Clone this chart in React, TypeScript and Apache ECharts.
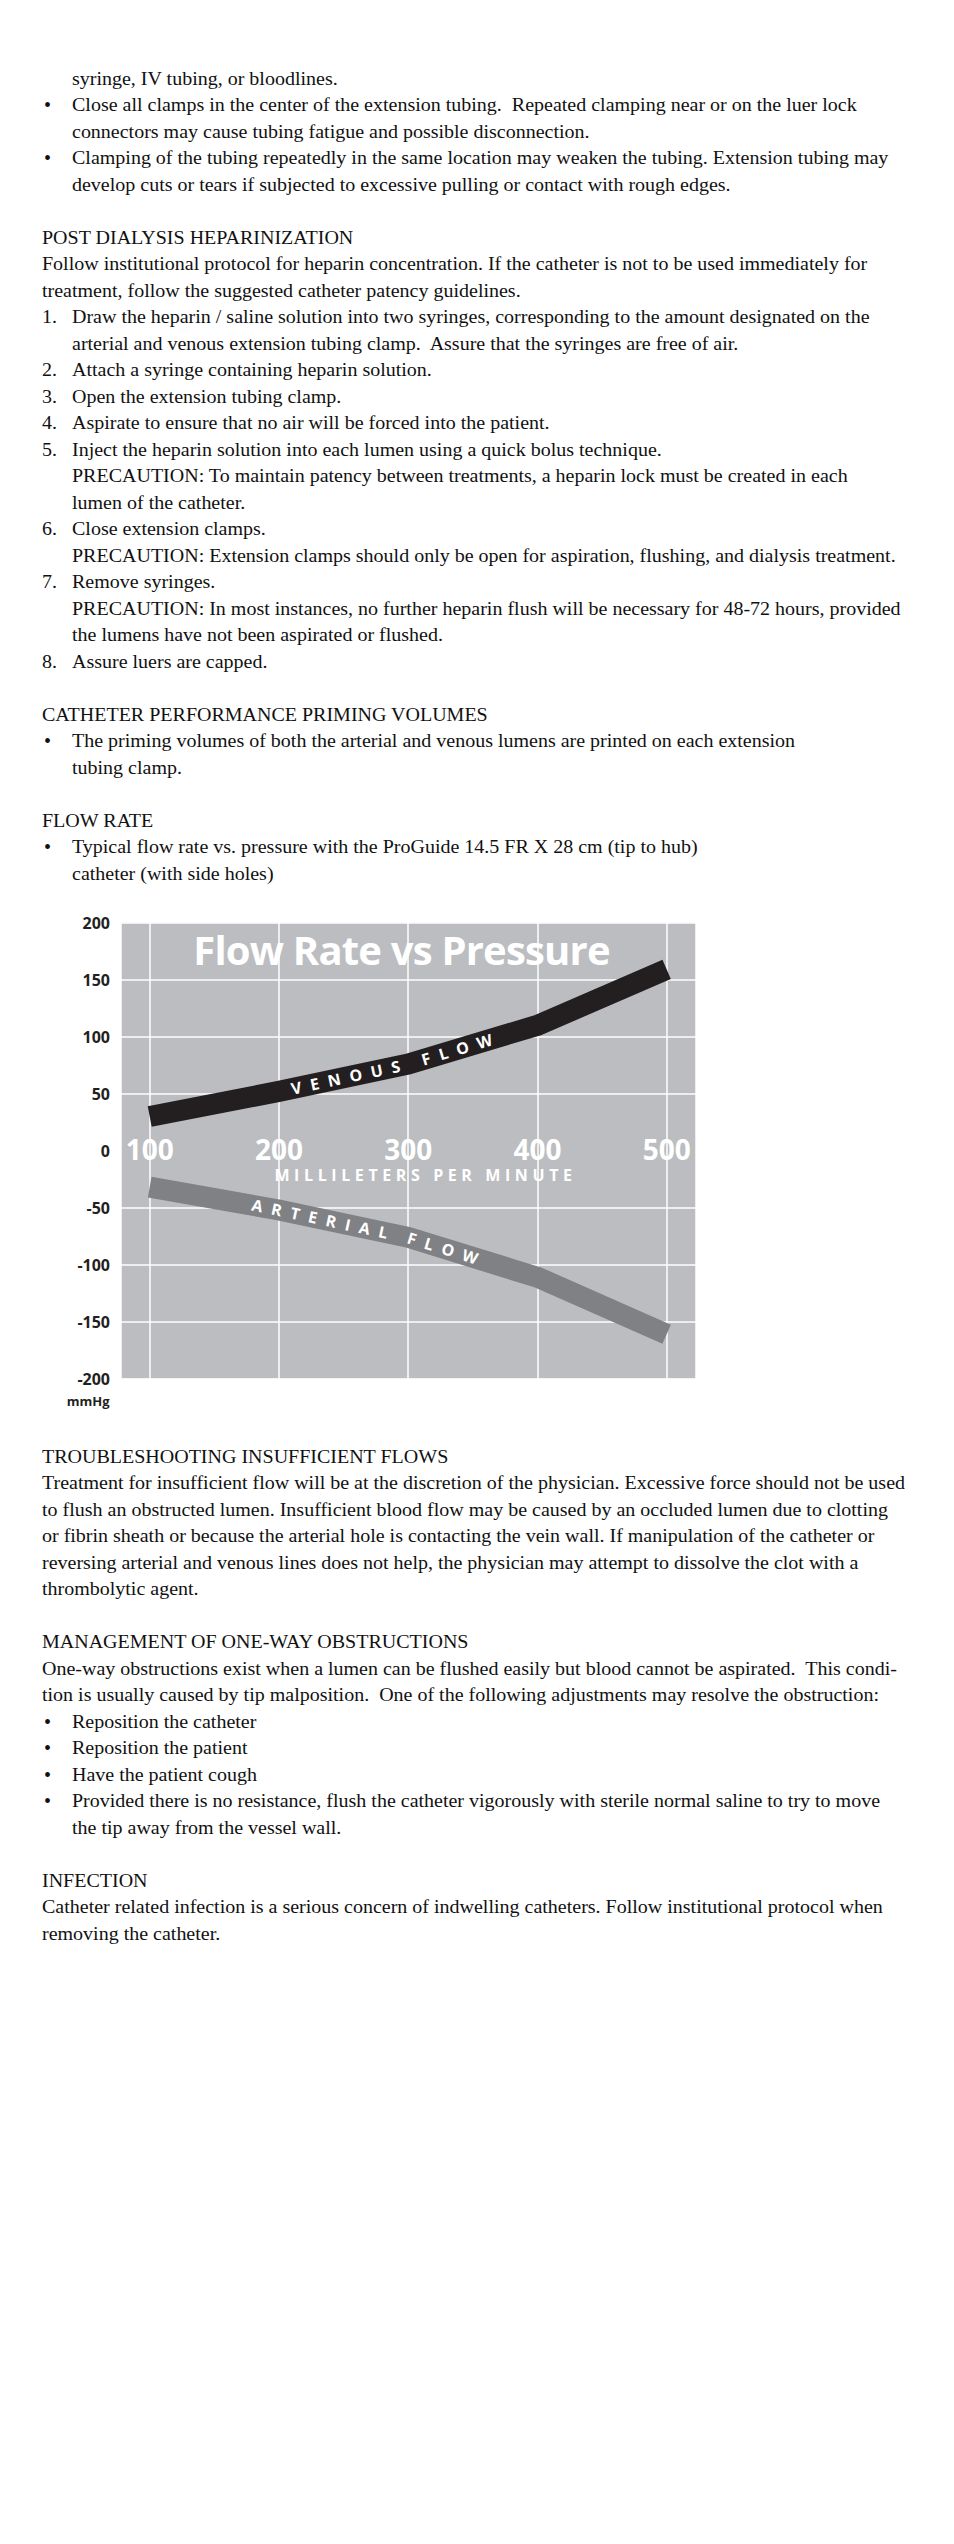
import React, { useEffect, useMemo, useRef } from 'react';
import * as echarts from 'echarts';

// ---------- chart data ----------
const flowRates = [100, 200, 300, 400, 500];
const venousPressure = [30, 52, 76, 110, 159];
const arterialPressure = [-32, -52, -76, -111, -161];
const pressureTicks = [-200, -150, -100, -50, 0, 50, 100, 150, 200];
const flowAxisRange = [77.8, 522.7];
const chartTitle = 'Flow Rate vs Pressure';
const flowAxisName = 'MILLILETERS PER MINUTE';
const pressureUnit = 'mmHg';
const venousWords = [
  { text: 'VENOUS', at: 255 },
  { text: 'FLOW', at: 341 },
];
const arterialWords = [
  { text: 'ARTERIAL', at: 235 },
  { text: 'FLOW', at: 330 },
];

// ---------- page text ----------
type Line = { i: number; kind: 'p' | 'c' | 'b' | 'n'; text: string; mark?: string };
const pageLines: Line[] = [
  { i: 0, kind: 'c', text: 'syringe, IV tubing, or bloodlines.' },
  { i: 1, kind: 'b', text: 'Close all clamps in the center of the extension tubing.  Repeated clamping near or on the luer lock' },
  { i: 2, kind: 'c', text: 'connectors may cause tubing fatigue and possible disconnection.' },
  { i: 3, kind: 'b', text: 'Clamping of the tubing repeatedly in the same location may weaken the tubing. Extension tubing may' },
  { i: 4, kind: 'c', text: 'develop cuts or tears if subjected to excessive pulling or contact with rough edges.' },
  { i: 6, kind: 'p', text: 'POST DIALYSIS HEPARINIZATION' },
  { i: 7, kind: 'p', text: 'Follow institutional protocol for heparin concentration. If the catheter is not to be used immediately for' },
  { i: 8, kind: 'p', text: 'treatment, follow the suggested catheter patency guidelines.' },
  { i: 9, kind: 'n', mark: '1.', text: 'Draw the heparin / saline solution into two syringes, corresponding to the amount designated on the' },
  { i: 10, kind: 'c', text: 'arterial and venous extension tubing clamp.  Assure that the syringes are free of air.' },
  { i: 11, kind: 'n', mark: '2.', text: 'Attach a syringe containing heparin solution.' },
  { i: 12, kind: 'n', mark: '3.', text: 'Open the extension tubing clamp.' },
  { i: 13, kind: 'n', mark: '4.', text: 'Aspirate to ensure that no air will be forced into the patient.' },
  { i: 14, kind: 'n', mark: '5.', text: 'Inject the heparin solution into each lumen using a quick bolus technique.' },
  { i: 15, kind: 'c', text: 'PRECAUTION: To maintain patency between treatments, a heparin lock must be created in each' },
  { i: 16, kind: 'c', text: 'lumen of the catheter.' },
  { i: 17, kind: 'n', mark: '6.', text: 'Close extension clamps.' },
  { i: 18, kind: 'c', text: 'PRECAUTION: Extension clamps should only be open for aspiration, flushing, and dialysis treatment.' },
  { i: 19, kind: 'n', mark: '7.', text: 'Remove syringes.' },
  { i: 20, kind: 'c', text: 'PRECAUTION: In most instances, no further heparin flush will be necessary for 48-72 hours, provided' },
  { i: 21, kind: 'c', text: 'the lumens have not been aspirated or flushed.' },
  { i: 22, kind: 'n', mark: '8.', text: 'Assure luers are capped.' },
  { i: 24, kind: 'p', text: 'CATHETER PERFORMANCE PRIMING VOLUMES' },
  { i: 25, kind: 'b', text: 'The priming volumes of both the arterial and venous lumens are printed on each extension' },
  { i: 26, kind: 'c', text: 'tubing clamp.' },
  { i: 28, kind: 'p', text: 'FLOW RATE' },
  { i: 29, kind: 'b', text: 'Typical flow rate vs. pressure with the ProGuide 14.5 FR X 28 cm (tip to hub)' },
  { i: 30, kind: 'c', text: 'catheter (with side holes)' },
  { i: 52, kind: 'p', text: 'TROUBLESHOOTING INSUFFICIENT FLOWS' },
  { i: 53, kind: 'p', text: 'Treatment for insufficient flow will be at the discretion of the physician. Excessive force should not be used' },
  { i: 54, kind: 'p', text: 'to flush an obstructed lumen. Insufficient blood flow may be caused by an occluded lumen due to clotting' },
  { i: 55, kind: 'p', text: 'or fibrin sheath or because the arterial hole is contacting the vein wall. If manipulation of the catheter or' },
  { i: 56, kind: 'p', text: 'reversing arterial and venous lines does not help, the physician may attempt to dissolve the clot with a' },
  { i: 57, kind: 'p', text: 'thrombolytic agent.' },
  { i: 59, kind: 'p', text: 'MANAGEMENT OF ONE-WAY OBSTRUCTIONS' },
  { i: 60, kind: 'p', text: 'One-way obstructions exist when a lumen can be flushed easily but blood cannot be aspirated.  This condi-' },
  { i: 61, kind: 'p', text: 'tion is usually caused by tip malposition.  One of the following adjustments may resolve the obstruction:' },
  { i: 62, kind: 'b', text: 'Reposition the catheter' },
  { i: 63, kind: 'b', text: 'Reposition the patient' },
  { i: 64, kind: 'b', text: 'Have the patient cough' },
  { i: 65, kind: 'b', text: 'Provided there is no resistance, flush the catheter vigorously with sterile normal saline to try to move' },
  { i: 66, kind: 'c', text: 'the tip away from the vessel wall.' },
  { i: 68, kind: 'p', text: 'INFECTION' },
  { i: 69, kind: 'p', text: 'Catheter related infection is a serious concern of indwelling catheters. Follow institutional protocol when' },
  { i: 70, kind: 'p', text: 'removing the catheter.' },
];

const SERIF = '"Liberation Serif", "Times New Roman", serif';
const SANS = '"Open Sans", "Noto Sans", sans-serif';

const GRID_HEIGHT = 456;

function FlowChart() {
  const ref = useRef<HTMLDivElement>(null);
  useEffect(() => {
    const el = ref.current!;
    const chart = echarts.init(el, null, { renderer: 'svg' });
    const venousData = flowRates.map((x, i) => [x, venousPressure[i]]);
    const arterialData = flowRates.map((x, i) => [x, arterialPressure[i]]);
    const splitColors = pressureTicks.map((t) => (t === 0 ? 'rgba(0,0,0,0)' : '#ffffff'));

    chart.setOption({
      animation: false,
      grid: {
        left: 121,
        top: 22.7,
        width: 575,
        height: GRID_HEIGHT,
        show: true,
        backgroundColor: '#BCBDC0',
        borderWidth: 0,
      },
      xAxis: {
        type: 'value',
        min: flowAxisRange[0],
        max: flowAxisRange[1],
        position: 'bottom',
        offset: -GRID_HEIGHT / 2 - 2,
        axisLine: { show: false, onZero: false },
        axisTick: { show: false },
        splitLine: { show: true, lineStyle: { color: '#ffffff', width: 1.5 } },
        axisLabel: {
          color: '#ffffff',
          fontSize: 28,
          fontWeight: 'bold',
          fontFamily: SANS,
          margin: 0,
          verticalAlign: 'middle',
          formatter: (v: number) =>
            flowRates.indexOf(Math.round(v)) >= 0 && Math.abs(v - Math.round(v)) < 1e-6 ? String(Math.round(v)) : '',
        },
      },
      yAxis: {
        type: 'value',
        min: pressureTicks[0],
        max: pressureTicks[pressureTicks.length - 1],
        interval: 50,
        axisLine: { show: false },
        axisTick: { show: false },
        splitLine: { show: true, lineStyle: { color: splitColors, width: 1.5 } },
        axisLabel: {
          color: '#231F20',
          fontSize: 16,
          fontWeight: 'bold',
          fontFamily: SANS,
          margin: 11,
        },
      },
      series: [
        {
          name: 'Venous flow',
          type: 'line',
          data: venousData,
          symbol: 'none',
          silent: true,
          z: 3,
          lineStyle: { color: '#231F20', width: 21, cap: 'butt', join: 'miter' },
        },
        {
          name: 'Arterial flow',
          type: 'line',
          data: arterialData,
          symbol: 'none',
          silent: true,
          z: 3,
          lineStyle: { color: '#808184', width: 21, cap: 'butt', join: 'miter' },
        },
      ],
    });

    const wordGraphics = (data: number[][], words: { text: string; at: number }[]) => {
      const pts = data.map((d) => chart.convertToPixel({ gridIndex: 0 }, d) as number[]);
      return words.map((w) => {
        const px = (chart.convertToPixel({ gridIndex: 0 }, [w.at, 0]) as number[])[0];
        let k = 0;
        while (k < pts.length - 2 && px > pts[k + 1][0]) k++;
        const [x1, y1] = pts[k];
        const [x2, y2] = pts[k + 1];
        const t = (px - x1) / (x2 - x1);
        const py = y1 + t * (y2 - y1);
        const rot = Math.atan2(y1 - y2, x2 - x1);
        return {
          type: 'text',
          x: px,
          y: py,
          rotation: rot,
          silent: true,
          z: 20,
          style: {
            text: w.text,
            fill: '#ffffff',
            font: `bold 16px ${SANS}`,
            align: 'center',
            verticalAlign: 'middle',
            textAlign: 'center',
            textVerticalAlign: 'middle',
          },
        };
      });
    };

    chart.setOption({
      graphic: [
        {
          type: 'text',
          x: 401.5,
          y: 49.5,
          silent: true,
          z: 20,
          style: {
            text: chartTitle,
            fill: '#ffffff',
            font: `bold 40px ${SANS}`,
            align: 'center',
            verticalAlign: 'middle',
            textAlign: 'center',
            textVerticalAlign: 'middle',
          },
        },
        {
          type: 'text',
          x: 425.5,
          y: 275,
          silent: true,
          z: 20,
          style: {
            text: flowAxisName,
            fill: '#ffffff',
            font: `bold 16px ${SANS}`,
            align: 'center',
            verticalAlign: 'middle',
            textAlign: 'center',
            textVerticalAlign: 'middle',
          },
        },
        {
          type: 'text',
          x: 109.5,
          y: 501,
          silent: true,
          z: 20,
          style: {
            text: pressureUnit,
            fill: '#231F20',
            font: `bold 13px ${SANS}`,
            align: 'right',
            verticalAlign: 'middle',
            textAlign: 'right',
            textVerticalAlign: 'middle',
          },
        },
        ...wordGraphics(venousData, venousWords),
        ...wordGraphics(arterialData, arterialWords),
      ],
    });

    const spacing: Record<string, number> = {
      [chartTitle]: -0.8,
      [flowAxisName]: 4.6,
      VENOUS: 9,
      ARTERIAL: 9,
      FLOW: 9,
    };
    const applySpacing = () => {
      el.querySelectorAll('text').forEach((t) => {
        const s = spacing[(t.textContent || '').trim()];
        if (s !== undefined) t.setAttribute('letter-spacing', String(s));
      });
    };
    applySpacing();
    chart.on('finished', applySpacing);

    return () => {
      chart.dispose();
    };
  }, []);

  return <div ref={ref} style={{ position: 'absolute', left: 0, top: 900, width: 954, height: 530 }} />;
}

export default function App() {
  const scale = useMemo(() => {
    const ctx = document.createElement('canvas').getContext('2d');
    if (!ctx) return 1;
    ctx.font = `18px ${SERIF}`;
    const w = ctx.measureText(pageLines.find((l) => l.i === 53)!.text).width;
    return w > 0 ? 863 / w : 1;
  }, []);

  const lineTop = (i: number) => 85 + 26.5 * i - 19.33;
  const base: React.CSSProperties = {
    position: 'absolute',
    fontFamily: SERIF,
    fontSize: 18,
    lineHeight: '26.5px',
    whiteSpace: 'pre',
    color: '#111',
  };

  return (
    <div
      style={{
        position: 'absolute',
        left: 0,
        top: 0,
        width: 954,
        height: 2544,
        overflow: 'hidden',
        background: '#fff',
      }}
    >
      {pageLines.map((l) => {
        const top = lineTop(l.i);
        const textLeft = l.kind === 'p' ? 42 : 72;
        return (
          <React.Fragment key={l.i}>
            {l.kind === 'b' && <div style={{ ...base, left: 44, top, fontSize: 20 }}>{'\u2022'}</div>}
            {l.kind === 'n' && (
              <div style={{ ...base, left: 42, top, transform: `scaleX(${scale})`, transformOrigin: '0 0' }}>{l.mark}</div>
            )}
            <div
              style={{
                ...base,
                left: textLeft,
                top,
                transform: `scaleX(${scale})`,
                transformOrigin: '0 0',
              }}
            >
              {l.text}
            </div>
          </React.Fragment>
        );
      })}
      <FlowChart />
    </div>
  );
}
